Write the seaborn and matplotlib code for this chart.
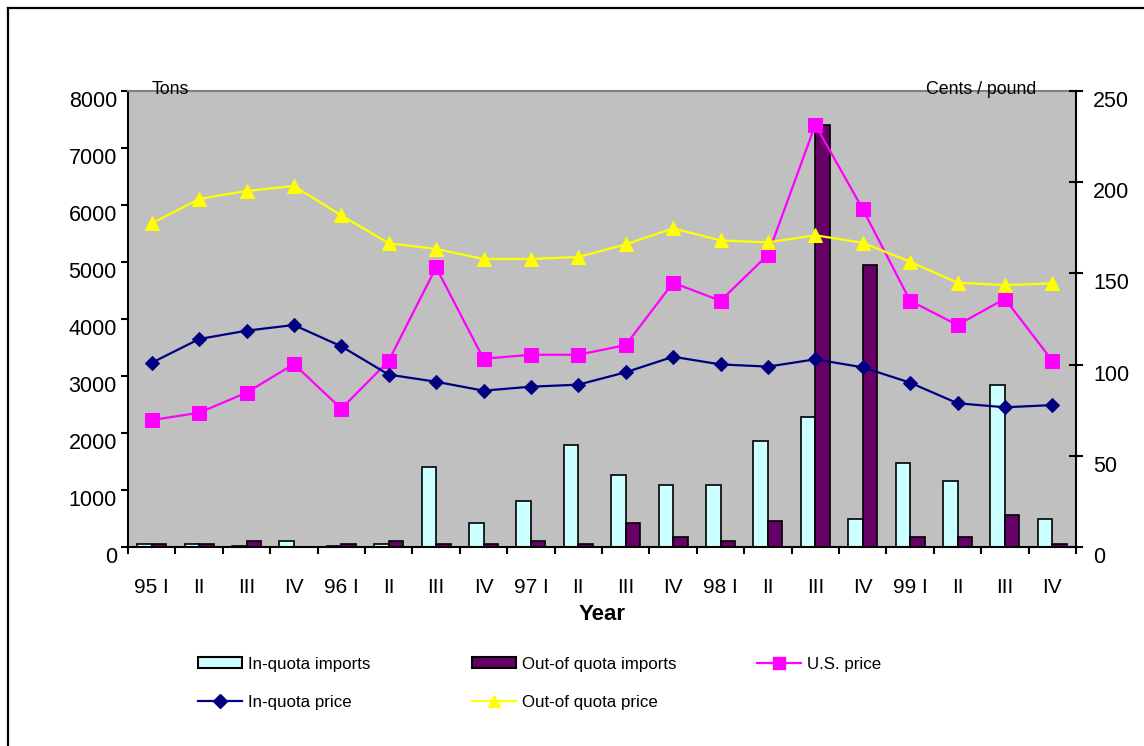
import matplotlib
matplotlib.use("Agg")
import matplotlib.pyplot as plt
from matplotlib.patches import Patch
from matplotlib.lines import Line2D
import numpy as np
import pandas as pd
import seaborn as sns

# ---------------- data ----------------
quarters = ["95 I", "95 II", "95 III", "95 IV", "96 I", "96 II", "96 III", "96 IV",
            "97 I", "97 II", "97 III", "97 IV", "98 I", "98 II", "98 III", "98 IV",
            "99 I", "99 II", "99 III", "99 IV"]
tick_labels = ["95 I", "II", "III", "IV", "96 I", "II", "III", "IV",
               "97 I", "II", "III", "IV", "98 I", "II", "III", "IV",
               "99 I", "II", "III", "IV"]

in_quota_imports = [60, 60, 25, 100, 20, 60, 1400, 420, 810, 1795, 1270, 1090,
                    1090, 1865, 2285, 495, 1480, 1160, 2850, 495]
out_quota_imports = [60, 60, 110, 0, 60, 110, 60, 60, 110, 60, 425, 180,
                     110, 460, 7410, 4950, 180, 180, 565, 60]

us_price = [69.6, 73.6, 84.6, 100.3, 75.8, 102.1, 153.3, 103.2, 105.4, 105.4,
            110.7, 144.9, 135.0, 160.2, 231.5, 185.3, 135.0, 121.7, 136.1, 102.1]
in_quota_price = [101.0, 114.0, 118.6, 121.7, 110.0, 94.5, 90.6, 85.7, 87.9, 89.0,
                  95.8, 104.3, 100.1, 98.9, 102.9, 98.5, 90.1, 78.8, 76.6, 77.8]
out_quota_price = [177.4, 190.8, 195.2, 197.9, 181.8, 166.5, 163.4, 157.9, 157.9, 159.0,
                   165.9, 174.7, 168.1, 167.0, 170.9, 166.8, 156.4, 144.9, 143.6, 144.5]

bar_series = ["In-quota imports", "Out-of quota imports"]
bar_colors = ["#CCFFFF", "#660066"]
line_series = ["U.S. price", "In-quota price", "Out-of quota price"]
line_colors = ["#FF00FF", "#000080", "#FFFF00"]
line_markers = ["s", "D", "^"]
line_msizes = [9.5, 7.5, 10]

# ---------------- tables ----------------
bars_df = pd.DataFrame({
    "quarter": quarters * 2,
    "series": [bar_series[0]] * len(quarters) + [bar_series[1]] * len(quarters),
    "tons": in_quota_imports + out_quota_imports,
})
lines_df = pd.DataFrame({
    "pos": list(range(len(quarters))) * 3,
    "series": sum([[s] * len(quarters) for s in line_series], []),
    "price": us_price + in_quota_price + out_quota_price,
})

# ---------------- figure ----------------
plt.rcParams["font.family"] = ["Liberation Sans", "DejaVu Sans"]
W, H = 1144, 746
fig = plt.figure(figsize=(W / 100, H / 100), dpi=100)
fig.patch.set_facecolor("white")
ax = fig.add_axes([128 / W, 1 - 547 / H, (1076 - 128) / W, (547 - 91) / H])
ax.set_facecolor("#C0C0C0")

sns.barplot(data=bars_df, x="quarter", y="tons", hue="series", order=quarters,
            hue_order=bar_series, palette=bar_colors, saturation=1, width=0.61,
            edgecolor="black", linewidth=1.2, legend=False, ax=ax, errorbar=None)

ax.set_xlim(-0.5, len(quarters) - 0.5)
ax.set_ylim(0, 8000)
ax.set_yticks(np.arange(0, 8001, 1000))
ax.set_xticks(range(len(quarters)))
ax.set_xticklabels(tick_labels)
ax.set_xticks(np.arange(-0.5, len(quarters), 1.0), minor=True)
ax.set_xlabel("Year", fontsize=16, fontweight="bold", labelpad=5)
ax.set_ylabel("")
ax.tick_params(axis="x", which="major", length=0, pad=22, labelsize=15)
ax.tick_params(axis="x", which="minor", length=5, width=1.5, direction="out", color="black")
ax.tick_params(axis="y", length=5, width=1.5, direction="out", pad=3, labelsize=15.5)
for lab in ax.get_yticklabels():
    lab.set_verticalalignment("top")

for s in ["left", "bottom"]:
    ax.spines[s].set_color("black")
    ax.spines[s].set_linewidth(1.5)
ax.spines["top"].set_color("#808080")
ax.spines["top"].set_linewidth(1.5)
ax.spines["right"].set_visible(False)

ax2 = ax.twinx()
ax2.patch.set_visible(False)
for name, col, mk, ms in zip(line_series, line_colors, line_markers, line_msizes):
    sub = lines_df[lines_df["series"] == name]
    sns.lineplot(data=sub, x="pos", y="price", color=col, marker=mk, markersize=ms,
                 markeredgecolor=col, linewidth=1.6, sort=False, ax=ax2,
                 legend=False, errorbar=None)
ax2.set_ylim(0, 250)
ax2.set_yticks(np.arange(0, 251, 50))
ax2.set_xlim(-0.5, len(quarters) - 0.5)
ax2.set_ylabel("")
ax2.set_xlabel("")
ax2.tick_params(axis="y", length=9.4, width=1.5, direction="inout", pad=7.5, labelsize=15.5)
for lab in ax2.get_yticklabels():
    lab.set_verticalalignment("top")
for s in ["left", "top", "bottom"]:
    ax2.spines[s].set_visible(False)
ax2.spines["right"].set_color("black")
ax2.spines["right"].set_linewidth(1.5)

# axis unit labels
fig.text(152 / W, 1 - 89 / H, "Tons", fontsize=12.8, ha="left", va="center")
fig.text(1036 / W, 1 - 89 / H, "Cents / pound", fontsize=12.8, ha="right", va="center")

# legend entries (placed individually)
handles = [
    Patch(facecolor=bar_colors[0], edgecolor="black", linewidth=1.5),
    Patch(facecolor=bar_colors[1], edgecolor="black", linewidth=1.5),
    Line2D([], [], color=line_colors[0], marker="s", markersize=9, linewidth=1.6),
    Line2D([], [], color=line_colors[1], marker="D", markersize=7, linewidth=1.6),
    Line2D([], [], color=line_colors[2], marker="^", markersize=9, linewidth=1.6),
]
labels = ["In-quota imports", "Out-of quota imports", "U.S. price",
          "In-quota price", "Out-of quota price"]
positions = [(198, 664), (472, 664), (757, 664), (198, 702), (472, 702)]
for h, l, (px, py) in zip(handles, labels, positions):
    fig.legend([h], [l], loc="center left", bbox_to_anchor=(px / W, 1 - py / H),
               frameon=False, fontsize=12.2, handlelength=2.6, handleheight=0.6,
               handletextpad=0.35, borderpad=0, borderaxespad=0)

# outer frame (top and left edges visible)
fig.add_artist(Line2D([8 / W, 8 / W], [0, 1 - 8 / H], transform=fig.transFigure,
                      color="black", linewidth=1.6))
fig.add_artist(Line2D([8 / W, 1], [1 - 8 / H, 1 - 8 / H], transform=fig.transFigure,
                      color="black", linewidth=1.6))

fig.savefig("out.png", dpi=100)
